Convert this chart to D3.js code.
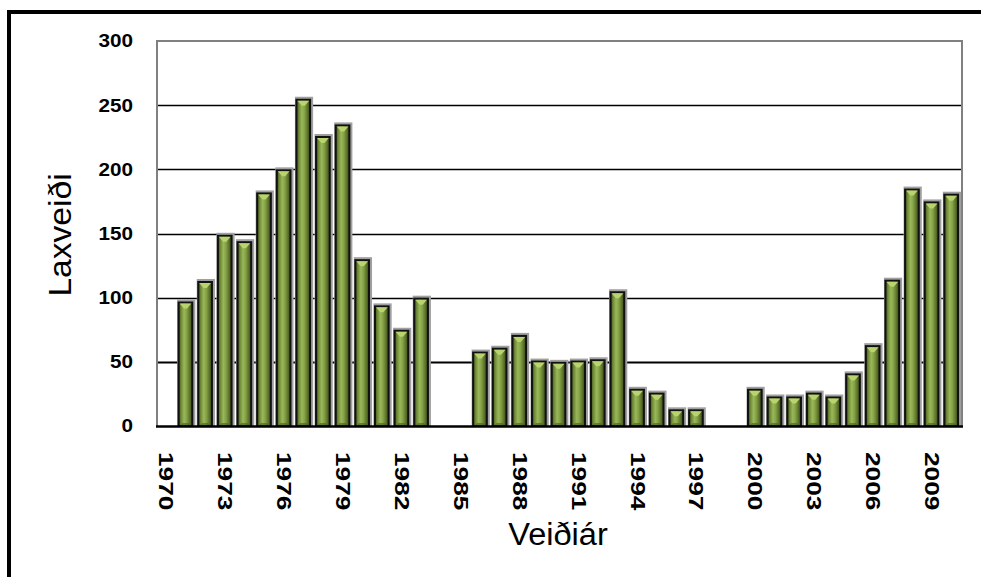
<!DOCTYPE html>
<html>
<head>
<meta charset="utf-8">
<script src="https://cdn.jsdelivr.net/npm/d3@7"></script>
<style>
  html, body { margin: 0; padding: 0; background: #fff; }
  svg { display: block; font-family: "Liberation Sans", Arial, sans-serif; }
</style>
</head>
<body>
<svg id="chart" width="981" height="577"></svg>
<script>
// ---- data ----
const years = d3.range(1970, 2011);
const catches = [
  0, 97, 113, 149, 144, 182, 200, 255, 226, 235,
  130, 94, 75, 100, 0, 0, 58, 61, 71, 51,
  50, 51, 52, 105, 29, 26, 13, 13, 0, 0,
  29, 23, 23, 26, 23, 41, 63, 114, 185, 175,
  181
];
const yTicks = [0, 50, 100, 150, 200, 250, 300];
const xTickYears = [1970, 1973, 1976, 1979, 1982, 1985, 1988, 1991, 1994, 1997, 2000, 2003, 2006, 2009];
const yTitle = "Laxveiði";
const xTitle = "Veiðiár";

// ---- layout ----
const svg = d3.select("#chart");
const W = 981, H = 577;
const plot = { left: 157, right: 962, top: 41, bottom: 426 };

svg.append("rect").attr("width", W).attr("height", H).attr("fill", "#fff");

// outer frame (only top and left visible)
svg.append("rect")
  .attr("x", 9).attr("y", 12).attr("width", 1100).attr("height", 1000)
  .attr("fill", "none").attr("stroke", "#000").attr("stroke-width", 4);

const x = d3.scaleBand().domain(years).range([plot.left, plot.right]).paddingInner(0).paddingOuter(0);
const y = d3.scaleLinear().domain([0, 300]).range([plot.bottom, plot.top]);

// defs: bar gradient
const defs = svg.append("defs");
const grad = defs.append("linearGradient").attr("id", "barGrad")
  .attr("x1", "0%").attr("x2", "100%").attr("y1", "0%").attr("y2", "0%");
[["0%", "#3f4d1c"], ["18%", "#6e8a35"], ["40%", "#9ab85a"], ["58%", "#86a447"], ["82%", "#5b7129"], ["100%", "#34411a"]]
  .forEach(([o, c]) => grad.append("stop").attr("offset", o).attr("stop-color", c));

// gridlines
const grid = svg.append("g");
yTicks.filter(t => t > 0 && t < 300).forEach(t => {
  grid.append("line")
    .attr("x1", plot.left).attr("x2", plot.right)
    .attr("y1", Math.round(y(t)) + 0.5).attr("y2", Math.round(y(t)) + 0.5)
    .attr("stroke", "#000").attr("stroke-width", t === 50 ? 2 : 1.3);
});

// plot border (gray top/left/right)
svg.append("path")
  .attr("d", `M${plot.left},${plot.bottom} L${plot.left},${plot.top} L${plot.right},${plot.top} L${plot.right},${plot.bottom}`)
  .attr("fill", "none").attr("stroke", "#808080").attr("stroke-width", 2);

// bars
const bw = x.bandwidth();
const barW = bw * 0.8;
const barOff = bw * 0.05;
const data = years.map((yr, i) => ({ year: yr, v: catches[i] })).filter(d => d.v > 0);
const bars = svg.append("g").selectAll("g").data(data).join("g");

// gray halo
bars.append("rect")
  .attr("x", d => x(d.year) + barOff - 0.5)
  .attr("y", d => y(d.v) - 2)
  .attr("width", barW + 2.5)
  .attr("height", d => plot.bottom - y(d.v) + 2)
  .attr("fill", "#a0a0a0");
// main bar
bars.append("rect")
  .attr("x", d => x(d.year) + barOff + 1)
  .attr("y", d => y(d.v) + 1)
  .attr("width", barW - 2)
  .attr("height", d => plot.bottom - y(d.v) - 1)
  .attr("fill", "url(#barGrad)")
  .attr("stroke", "#111").attr("stroke-width", 2);
// top highlight triangle
bars.append("path")
  .attr("d", d => {
    const x0 = x(d.year) + barOff + 2, x1 = x0 + barW - 4, yt = y(d.v) + 2;
    const cx = (x0 + x1) / 2;
    return `M${x0},${yt} L${x1},${yt} L${cx + 1.5},${yt + 5} L${cx - 1.5},${yt + 5} Z`;
  })
  .attr("fill", "#b9d46e");
// bottom bevel
bars.append("path")
  .attr("d", d => {
    const x0 = x(d.year) + barOff + 2, x1 = x0 + barW - 4, yb = plot.bottom;
    return `M${x0},${yb} L${x1},${yb} L${x1 - 3},${yb - 3} L${x0 + 3},${yb - 3} Z`;
  })
  .attr("fill", "#4b5c22").attr("opacity", 0.6);

// x axis baseline
svg.append("line")
  .attr("x1", plot.left - 1).attr("x2", plot.right + 1)
  .attr("y1", plot.bottom + 0.5).attr("y2", plot.bottom + 0.5)
  .attr("stroke", "#000").attr("stroke-width", 2.5);

// y tick labels
svg.append("g").selectAll("text").data(yTicks).join("text")
  .attr("transform", d => `translate(133,${y(d)}) scale(1.15,1)`)
  .attr("text-anchor", "end")
  .attr("dominant-baseline", "central")
  .attr("font-size", 18).attr("font-weight", "bold")
  .attr("fill", "#000")
  .text(d => d);

// x tick labels (rotated, reading top to bottom)
svg.append("g").selectAll("text").data(xTickYears).join("text")
  .attr("transform", d => `translate(${x(d) + bw / 2},452) rotate(90) scale(1.25,1)`)
  .attr("text-anchor", "start")
  .attr("dominant-baseline", "central")
  .attr("font-size", 21).attr("font-weight", "bold")
  .attr("fill", "#000")
  .text(d => d);

// axis titles
svg.append("text")
  .attr("transform", `translate(60,235) rotate(-90) scale(1.05,1)`)
  .attr("text-anchor", "middle")
  .attr("dominant-baseline", "central")
  .attr("font-size", 32)
  .attr("fill", "#000")
  .text(yTitle);

svg.append("text")
  .attr("transform", `translate(558,545) scale(1.05,1)`)
  .attr("text-anchor", "middle")
  .attr("font-size", 31)
  .attr("fill", "#000")
  .text(xTitle);
</script>
</body>
</html>
